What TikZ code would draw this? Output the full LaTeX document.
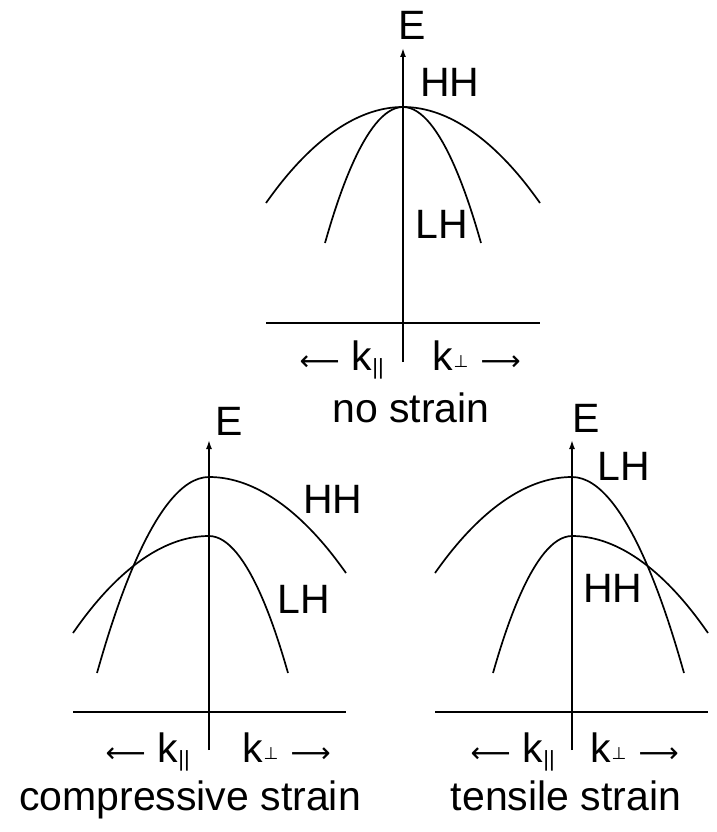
\documentclass[tikz,border=0pt]{standalone}
\usepackage{fontspec}
\setmainfont{Liberation Sans}
\newfontfamily\symfont{DejaVu Sans}
\usetikzlibrary{arrows.meta}

\newcommand{\kpar}{{\symfont\fontsize{28}{30}\selectfont ⟵}\hspace{12pt}k\raisebox{-4pt}{\fontsize{22}{24}\selectfont ||}}
\newcommand{\kperp}{k\hspace{1pt}\raisebox{3pt}{\symfont\fontsize{17}{20}\selectfont ⊥}\hspace{12pt}{\symfont\fontsize{28}{30}\selectfont ⟶}}

\begin{document}
\begin{tikzpicture}[
    x=1pt, y=-1pt,
    axis/.style={line width=1.6pt},
    eaxis/.style={line width=1.6pt, -{Latex[length=9pt, width=6pt]}},
    band/.style={line width=1.7pt},
    lbl/.style={font=\fontsize{41}{48}\selectfont, inner sep=0pt}
]
    \useasboundingbox (0,0) rectangle (716,832);

    % no strain
    \coordinate (a1) at (403,362);
    \coordinate (e1) at (403,48);
    \coordinate (kl1) at (266,323);
    \coordinate (kr1) at (540,323);
    \coordinate (top1) at (403,107);
    \draw[axis] (kl1) -- (kr1);
    \draw[eaxis] (a1) -- (e1);
    \draw[band] (266,203) parabola[bend at end] (top1) parabola (540,203);
    \draw[band] (325,243) parabola[bend at end] (top1) parabola (481,243);
    \node[lbl, anchor=base west] (elbl1) at (398,40) {E};
    \node[lbl, anchor=base west] (hh1) at (420,97) {HH};
    \node[lbl, anchor=base west] (lh1) at (415,238) {LH};
    \node[lbl, anchor=base east] (kpar1) at (384,370) {\kpar};
    \node[lbl, anchor=base west] (kperp1) at (432,370) {\kperp};
    \node[lbl, anchor=base] (nostrain) at (411,422) {no strain};

    % compressive strain
    \coordinate (a2) at (209,750);
    \coordinate (e2) at (209,440);
    \coordinate (kl2) at (73,712);
    \coordinate (kr2) at (346,712);
    \coordinate (hhtop2) at (209,477);
    \coordinate (lhtop2) at (209,536);
    \draw[axis] (kl2) -- (kr2);
    \draw[eaxis] (a2) -- (e2);
    \draw[band] (97,673) parabola[bend at end] (hhtop2) parabola (346,573);
    \draw[band] (73,633) parabola[bend at end] (lhtop2) parabola (288,673);
    \node[lbl, anchor=base west] (elbl2) at (215,435) {E};
    \node[lbl, anchor=base west] (hh2) at (303,513) {HH};
    \node[lbl, anchor=base west] (lh2) at (277,613) {LH};
    \node[lbl, anchor=base east] (kpar2) at (190,762) {\kpar};
    \node[lbl, anchor=base west] (kperp2) at (242,762) {\kperp};
    \node[lbl, anchor=base] (compr) at (190,810) {compressive strain};

    % tensile strain
    \coordinate (a3) at (572,750);
    \coordinate (e3) at (572,440);
    \coordinate (kl3) at (435,712);
    \coordinate (kr3) at (708,712);
    \coordinate (lhtop3) at (572,477);
    \coordinate (hhtop3) at (572,536);
    \draw[axis] (kl3) -- (kr3);
    \draw[eaxis] (a3) -- (e3);
    \draw[band] (435,573) parabola[bend at end] (lhtop3) parabola (684,673);
    \draw[band] (493,673) parabola[bend at end] (hhtop3) parabola (708,633);
    \node[lbl, anchor=base west] (elbl3) at (572,432) {E};
    \node[lbl, anchor=base west] (lh3) at (597,480) {LH};
    \node[lbl, anchor=base west] (hh3) at (583,602) {HH};
    \node[lbl, anchor=base east] (kpar3) at (555,762) {\kpar};
    \node[lbl, anchor=base west] (kperp3) at (590,762) {\kperp};
    \node[lbl, anchor=base] (tens) at (566,810) {tensile strain};
\end{tikzpicture}
\end{document}
